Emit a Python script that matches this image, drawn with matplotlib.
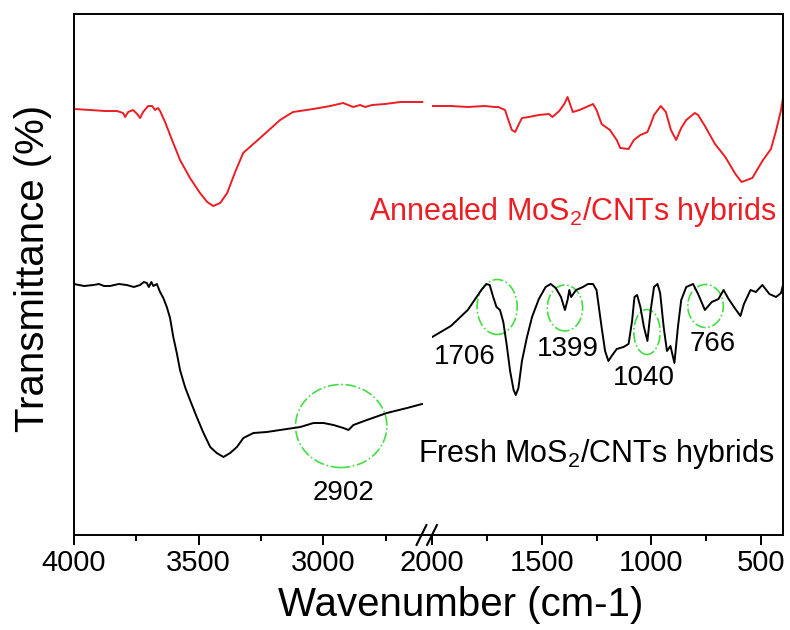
import matplotlib
matplotlib.use('Agg')
import matplotlib.pyplot as plt
from matplotlib.patches import Ellipse

plt.rcParams['font.family'] = ['Liberation Sans', 'DejaVu Sans']
plt.rcParams['mathtext.fontset'] = 'custom'
plt.rcParams['mathtext.rm'] = 'Liberation Sans'

# annealed sample (red), high wavenumber part / low wavenumber part
red_wn_hi = [4000, 3936, 3876, 3828, 3803, 3795, 3783, 3763, 3747, 3735, 3723, 3703, 3687, 3675,
             3663, 3655, 3635, 3607, 3575, 3535, 3495, 3466, 3442, 3414, 3386, 3354, 3322, 3286,
             3254, 3214, 3174, 3122, 3041, 2973, 2921, 2901, 2881, 2853, 2833, 2805, 2753, 2692,
             2652, 2604]
red_t_hi = [426, 425, 424, 424, 422, 418, 423, 425, 421, 417, 423, 429, 429, 425,
            427, 424, 413, 395, 375, 357, 342, 333, 329, 332, 342, 363, 382, 390,
            397, 406, 415, 423, 426, 429, 432, 430, 428, 430, 428, 430, 431, 433,
            433, 433]
red_wn_lo = [1999, 1914, 1837, 1760, 1714, 1698, 1667, 1652, 1636, 1621, 1606, 1590, 1559, 1513,
             1467, 1451, 1420, 1397, 1382, 1374, 1358, 1328, 1296, 1266, 1250, 1227, 1189, 1158,
             1142, 1104, 1080, 1050, 1018, 1003, 988, 957, 934, 911, 887, 864, 841, 802,
             787, 756, 710, 663, 617, 589, 540, 494, 455, 432, 409, 400]
red_t_lo = [429, 429, 428, 429, 428, 428, 425, 415, 405, 403, 410, 417, 418, 420,
            421, 418, 424, 431, 438, 433, 423, 425, 428, 431, 425, 411, 405, 395,
            387, 386, 395, 400, 403, 411, 420, 429, 423, 405, 395, 407, 415, 422,
            420, 409, 391, 378, 361, 353, 357, 374, 386, 404, 425, 437]

# fresh sample (black)
blk_wn_hi = [4000, 3960, 3922, 3900, 3880, 3856, 3820, 3789, 3760, 3735, 3720, 3708, 3700, 3690,
             3682, 3668, 3655, 3642, 3628, 3615, 3602, 3588, 3575, 3555, 3535, 3508, 3481, 3454,
             3428, 3401, 3374, 3347, 3321, 3281, 3227, 3147, 3093, 3040, 3000, 2960, 2920, 2900,
             2880, 2826, 2746, 2665, 2605]
blk_t_hi = [251, 249, 250, 251, 249, 249, 251, 250, 248, 250, 253, 252, 248, 253,
            249, 251, 243, 237, 228, 217, 198, 182, 165, 148, 135, 118, 102, 88,
            82, 78, 82, 88, 97, 102, 103, 106, 108, 112, 112, 110, 107, 105,
            110, 115, 122, 127, 131]
blk_wn_lo = [1999, 1914, 1837, 1775, 1752, 1737, 1721, 1706, 1690, 1675, 1660, 1644, 1628, 1618,
             1606, 1590, 1567, 1544, 1513, 1482, 1459, 1436, 1412, 1394, 1382, 1374, 1366, 1343,
             1312, 1289, 1266, 1250, 1227, 1211, 1196, 1181, 1158, 1127, 1104, 1088, 1077, 1065,
             1050, 1034, 1018, 1003, 988, 972, 960, 944, 929, 913, 895, 879, 864, 841,
             810, 787, 756, 725, 694, 671, 648, 617, 594, 578, 548, 524, 494, 462,
             432, 409, 400]
blk_t_lo = [198, 209, 225, 245, 251, 250, 238, 228, 225, 213, 191, 164, 145, 140,
            147, 174, 198, 218, 236, 248, 251, 247, 238, 225, 235, 245, 238, 245,
            248, 251, 251, 245, 208, 184, 174, 179, 186, 188, 191, 214, 238, 240,
            228, 208, 194, 225, 248, 251, 242, 208, 184, 189, 172, 208, 235, 248,
            251, 241, 225, 233, 236, 245, 236, 226, 219, 231, 245, 243, 250, 241,
            238, 242, 250]

# marked peaks: label, label position, circle centre and size
peak_names = ['2902', '1706', '1399', '1040', '766']
peak_label_xy = [(2921, 42), (1849, 178), (1381, 186), (1032, 157), (720, 191)]
peak_circle_xy = [(2929, 109), (1703, 228), (1394, 227), (1020, 203), (753, 229)]
peak_circle_wh = [(366, 83), (183, 55), (161, 46), (120, 45), (162, 43)]

fig = plt.figure(figsize=(7.9, 6.3), dpi=100)
W, H = 790.0, 630.0
ax1 = fig.add_axes([74/W, 1-535/H, (432-74)/W, (535-14)/H])
ax2 = fig.add_axes([432/W, 1-535/H, (783-432)/W, (535-14)/H])

ax1.plot(red_wn_hi, red_t_hi, color='#ec1e24', lw=1.4)
ax2.plot(red_wn_lo, red_t_lo, color='#ec1e24', lw=1.4)
ax1.plot(blk_wn_hi, blk_t_hi, color='black', lw=1.4)
ax2.plot(blk_wn_lo, blk_t_lo, color='black', lw=1.4)

ax1.set_xlim(4000, 2565)
ax2.set_xlim(2000, 400)
for ax in (ax1, ax2):
    ax.set_ylim(0, 521)
    ax.set_yticks([])
    ax.tick_params(axis='x', which='major', direction='out', length=7, width=1.4, labelsize=21, pad=3)
    ax.tick_params(axis='x', which='minor', direction='out', length=4.5, width=1.4)
    for s in ax.spines.values():
        s.set_linewidth(1.4)
ax1.spines['right'].set_visible(False)
ax2.spines['left'].set_visible(False)
ax1.set_xticks([4000, 3500, 3000])
ax1.set_xticks([3750, 3250, 2750], minor=True)
ax2.set_xticks([2000, 1500, 1000, 500])
ax2.set_xticks([1750, 1250, 750], minor=True)

# green dash-dot circles + labels
for i, name in enumerate(peak_names):
    ax = ax1 if i == 0 else ax2
    cx, cy = peak_circle_xy[i]
    w, h = peak_circle_wh[i]
    ax.add_patch(Ellipse((cx, cy), w, h, fill=False, ec='#44dd44', lw=1.2, ls='-.'))
    lx, ly = peak_label_xy[i]
    ax.text(lx, ly, name, fontsize=20, ha='center', va='center')

ax2.text(431, 315, 'Annealed MoS$_\\mathregular{2}$/CNTs hybrids', color='#ec1e24',
         fontsize=22, ha='right', va='baseline', clip_on=False)
ax2.text(440, 73, 'Fresh MoS$_\\mathregular{2}$/CNTs hybrids', color='black',
         fontsize=22, ha='right', va='baseline', clip_on=False)

# axis break marks
for dx in (-0.03, 0.0):
    ax2.plot([dx - 0.014, dx + 0.014], [-0.019, 0.019], transform=ax2.transAxes,
             color='black', lw=1.5, clip_on=False)

fig.text(461/W, 1-605/H, 'Wavenumber (cm-1)', fontsize=29, ha='center', va='center')
fig.text(33/W, 1-268/H, 'Transmittance (%)', fontsize=29, ha='center', va='center', rotation=90)

fig.savefig('out.png', dpi=100)
